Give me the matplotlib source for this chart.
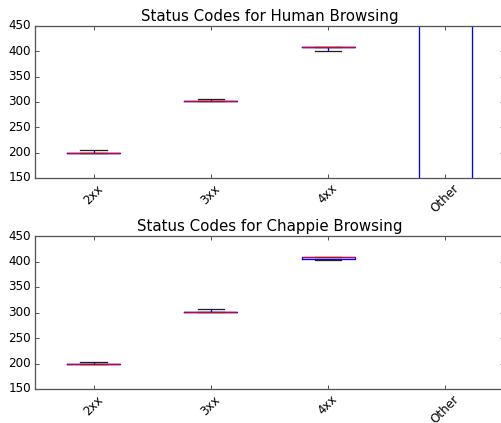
import matplotlib
matplotlib.use('Agg')
import matplotlib.pyplot as plt

# Status code groups
CATEGORIES = ['2xx', '3xx', '4xx', 'Other']

# Box stats (lower whisker, q1, median, q3, upper whisker)
HUMAN_WHISLO = [200, 301, 400, 0]
HUMAN_Q1 = [200, 301, 408, 0]
HUMAN_MED = [200, 301, 408, 500]
HUMAN_Q3 = [200, 301, 408, 503]
HUMAN_WHISHI = [205, 306, 408, 504]

CHAPPIE_WHISLO = [200, 301, 402]
CHAPPIE_Q1 = [200, 301, 404]
CHAPPIE_MED = [200, 301, 408]
CHAPPIE_Q3 = [200, 301, 408]
CHAPPIE_WHISHI = [203, 306, 408]

LW = 1.3


def build_stats(whislo, q1, med, q3, whishi):
    stats = []
    for lo, a, m, b, hi in zip(whislo, q1, med, q3, whishi):
        stats.append({'whislo': lo, 'q1': a, 'med': m, 'q3': b,
                      'whishi': hi, 'fliers': []})
    return stats


def draw_panel(ax, stats, title):
    positions = list(range(1, len(stats) + 1))
    ax.bxp(stats, positions=positions, widths=0.45,
           boxprops={'color': '#0000ff', 'linewidth': LW},
           whiskerprops={'color': '#0000ff', 'linestyle': '--', 'linewidth': LW},
           capprops={'color': '#222222', 'linewidth': LW},
           medianprops={'color': '#ff0000', 'linewidth': LW, 'alpha': 0.8})
    ax.set_xlim(0.5, len(CATEGORIES) + 0.5)
    ax.set_ylim(150, 450)
    ax.set_xticks(range(1, len(CATEGORIES) + 1))
    ax.set_xticklabels(CATEGORIES, rotation=45)
    ax.set_yticks([150, 200, 250, 300, 350, 400, 450])
    ax.set_title(title, fontsize=15)
    for spine in ax.spines.values():
        spine.set_color('#555555')
        spine.set_linewidth(1.3)
    ax.tick_params(color='#555555', width=1.0)


plt.style.use('classic')
fig = plt.figure(figsize=(501 / 72, 423 / 72), dpi=72, facecolor='white')

ax1 = fig.add_axes([35 / 501, 1 - 178 / 423, 469 / 501, 152 / 423])
ax2 = fig.add_axes([35 / 501, 1 - 389 / 423, 469 / 501, 153 / 423])

draw_panel(ax1, build_stats(HUMAN_WHISLO, HUMAN_Q1, HUMAN_MED, HUMAN_Q3, HUMAN_WHISHI),
           'Status Codes for Human Browsing')
draw_panel(ax2, build_stats(CHAPPIE_WHISLO, CHAPPIE_Q1, CHAPPIE_MED, CHAPPIE_Q3, CHAPPIE_WHISHI),
           'Status Codes for Chappie Browsing')

fig.savefig('out.png', dpi=72, facecolor='white')
